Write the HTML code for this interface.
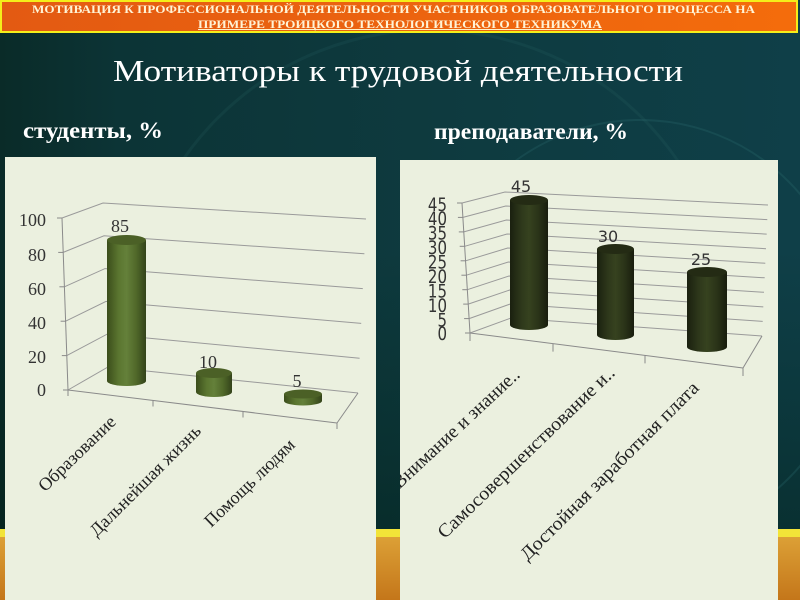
<!DOCTYPE html>
<html><head><meta charset="utf-8"><style>
html,body{margin:0;padding:0;background:#0d3a3e;}
svg{display:block;}
</style></head><body>
<svg width="800" height="600" viewBox="0 0 800 600" xmlns="http://www.w3.org/2000/svg">
<defs>
<linearGradient id="bg" x1="0" y1="0" x2="1" y2="0">
<stop offset="0" stop-color="#0a2b28"/><stop offset="0.15" stop-color="#0c3436"/><stop offset="0.6" stop-color="#0e3b40"/><stop offset="1" stop-color="#0f3f48"/>
</linearGradient>
<linearGradient id="bgv" x1="0" y1="0" x2="0" y2="1">
<stop offset="0" stop-color="#002018" stop-opacity="0"/><stop offset="1" stop-color="#001a10" stop-opacity="0.4"/>
</linearGradient>
<linearGradient id="strip" x1="0" y1="0" x2="0" y2="1">
<stop offset="0" stop-color="#dca036"/><stop offset="1" stop-color="#c4761a"/>
</linearGradient>
<linearGradient id="ban" x1="0" y1="0" x2="1" y2="0">
<stop offset="0" stop-color="#e35a12"/><stop offset="1" stop-color="#f46c0c"/>
</linearGradient>
<linearGradient id="gl" x1="0" y1="0" x2="1" y2="0">
<stop offset="0" stop-color="#3b4d1b"/><stop offset="0.3" stop-color="#5b7630"/><stop offset="0.5" stop-color="#64803a"/><stop offset="0.75" stop-color="#506829"/><stop offset="1" stop-color="#33431a"/>
</linearGradient>
<linearGradient id="gr" x1="0" y1="0" x2="1" y2="0">
<stop offset="0" stop-color="#1a200f"/><stop offset="0.3" stop-color="#2e381b"/><stop offset="0.5" stop-color="#36421f"/><stop offset="0.75" stop-color="#2a3318"/><stop offset="1" stop-color="#181d0d"/>
</linearGradient>
<clipPath id="cpR"><rect x="400" y="160" width="378" height="440"/></clipPath>
<clipPath id="cpL"><rect x="5" y="157" width="371" height="443"/></clipPath>
</defs>

<!-- background -->
<rect x="0" y="0" width="800" height="600" fill="url(#bg)"/>
<rect x="0" y="250" width="800" height="280" fill="url(#bgv)"/>
<circle cx="640" cy="330" r="210" fill="none" stroke="#2a6a6c" stroke-opacity="0.3" stroke-width="2"/>
<circle cx="430" cy="330" r="300" fill="none" stroke="#2a6a6c" stroke-opacity="0.18" stroke-width="3"/>
<rect x="0" y="529" width="800" height="8" fill="#f2e438"/>
<rect x="0" y="537" width="800" height="63" fill="url(#strip)"/>

<!-- banner -->
<rect x="1" y="1" width="796" height="31" fill="url(#ban)" stroke="#f4ee1a" stroke-width="2"/>
<text x="32" y="13" textLength="723" lengthAdjust="spacingAndGlyphs" font-family="Liberation Serif, serif" font-weight="bold" font-size="12" fill="#fff4d6">МОТИВАЦИЯ К ПРОФЕССИОНАЛЬНОЙ ДЕЯТЕЛЬНОСТИ  УЧАСТНИКОВ ОБРАЗОВАТЕЛЬНОГО ПРОЦЕССА НА</text>
<text x="198" y="28" textLength="404" lengthAdjust="spacingAndGlyphs" font-family="Liberation Serif, serif" font-weight="bold" font-size="12" fill="#fff4d6">ПРИМЕРЕ  ТРОИЦКОГО ТЕХНОЛОГИЧЕСКОГО ТЕХНИКУМА</text>
<line x1="198" y1="29.5" x2="602" y2="29.5" stroke="#fff0c8" stroke-width="1"/>

<!-- titles -->
<text x="113" y="81" textLength="570" lengthAdjust="spacingAndGlyphs" font-family="Liberation Serif, serif" font-size="31" fill="#ffffff">Мотиваторы к трудовой деятельности</text>
<text x="23" y="138" textLength="140" lengthAdjust="spacingAndGlyphs" font-family="Liberation Serif, serif" font-weight="bold" font-size="23" fill="#ffffff">студенты, %</text>
<text x="434" y="139" textLength="194" lengthAdjust="spacingAndGlyphs" font-family="Liberation Serif, serif" font-weight="bold" font-size="23" fill="#ffffff">преподаватели, %</text>

<!-- panels -->
<rect x="5" y="157" width="371" height="443" fill="#ebf0df"/>
<rect x="400" y="160" width="378" height="440" fill="#ebf0df"/>

<!-- LEFT CHART -->
<g clip-path="url(#cpL)">
<g stroke="#9a9a9a" stroke-width="1" fill="none">
<polyline points="68,390 108,367 358,393"/>
<polyline points="66.8,355.6 107,334.2 359.6,358.2"/>
<polyline points="65.6,321.2 106,301.4 361.2,323.4"/>
<polyline points="64.4,286.8 105,268.6 362.8,288.6"/>
<polyline points="63.2,252.4 104,235.8 364.4,253.8"/>
<polyline points="62,218 103,203 366,219"/>
</g>
<g stroke="#8a8a8a" stroke-width="1" fill="none">
<line x1="62" y1="218" x2="68" y2="390"/>
<line x1="68" y1="390" x2="337" y2="423"/>
<line x1="337" y1="423" x2="358" y2="393"/>
<line x1="57" y1="218" x2="62" y2="218"/>
<line x1="58.2" y1="252.4" x2="63.2" y2="252.4"/>
<line x1="59.4" y1="286.8" x2="64.4" y2="286.8"/>
<line x1="60.6" y1="321.2" x2="65.6" y2="321.2"/>
<line x1="61.8" y1="355.6" x2="66.8" y2="355.6"/>
<line x1="63" y1="390" x2="68" y2="390"/>
<line x1="68" y1="390" x2="68" y2="396"/>
<line x1="153" y1="400.4" x2="153" y2="406.5"/>
<line x1="243" y1="411.5" x2="243" y2="417.5"/>
<line x1="337" y1="423" x2="337" y2="429"/>
</g>
<g font-family="Liberation Serif, serif" font-size="18" fill="#333" text-anchor="end">
<text x="46" y="226">100</text>
<text x="46" y="261">80</text>
<text x="46" y="295">60</text>
<text x="46" y="329">40</text>
<text x="46" y="363">20</text>
<text x="46" y="396">0</text>
</g>
<!-- bars -->
<path d="M107 240 L107 381 A19.5 5 0 0 0 146 381 L146 240 Z" fill="url(#gl)"/>
<ellipse cx="126.5" cy="240" rx="19.5" ry="5" fill="#4b6026"/>
<path d="M196 373 L196 392 A18 5 0 0 0 232 392 L232 373 Z" fill="url(#gl)"/>
<ellipse cx="214" cy="373" rx="18" ry="5" fill="#4b6026"/>
<text x="297" y="387" font-family="Liberation Serif, serif" font-size="18" fill="#333" text-anchor="middle">5</text>
<path d="M284 394 L284 401 A19 4.5 0 0 0 322 401 L322 394 Z" fill="url(#gl)"/>
<ellipse cx="303" cy="394" rx="19" ry="4.5" fill="#4b6026"/>
<g font-family="Liberation Serif, serif" font-size="18" fill="#333" text-anchor="middle">
<text x="120" y="232">85</text>
<text x="208" y="368">10</text>
</g>
<g font-family="Liberation Serif, serif" font-size="18" fill="#222" text-anchor="end">
<text transform="translate(117,423) rotate(-44)" textLength="100" lengthAdjust="spacingAndGlyphs">Образование</text>
<text transform="translate(202,432) rotate(-45)" textLength="149" lengthAdjust="spacingAndGlyphs">Дальнейшая жизнь</text>
<text transform="translate(296,446) rotate(-44)" textLength="118" lengthAdjust="spacingAndGlyphs">Помощь людям</text>
</g>
</g>

<!-- RIGHT CHART -->
<g clip-path="url(#cpR)">
<g stroke="#9a9a9a" stroke-width="1" fill="none">
<polyline points="470,333 511,318 762,336"/>
<polyline points="469.1,318.6 510.3,304 762.7,321.4"/>
<polyline points="468.2,304.1 509.7,290 763.3,306.9"/>
<polyline points="467.3,289.7 509,276 764,292.3"/>
<polyline points="466.4,275.2 508.3,262 764.7,277.8"/>
<polyline points="465.6,260.8 507.7,248 765.3,263.2"/>
<polyline points="464.7,246.3 507,234 766,248.7"/>
<polyline points="463.8,231.9 506.3,220 766.7,234.1"/>
<polyline points="462.9,217.4 505.7,206 767.3,219.6"/>
<polyline points="462,203 505,192 768,205"/>
</g>
<g stroke="#8a8a8a" stroke-width="1" fill="none">
<line x1="462" y1="203" x2="470" y2="333"/>
<line x1="470" y1="333" x2="743" y2="368"/>
<line x1="743" y1="368" x2="762" y2="336"/>
<line x1="457" y1="203" x2="462" y2="203"/>
<line x1="457.9" y1="217.4" x2="462.9" y2="217.4"/>
<line x1="458.8" y1="231.9" x2="463.8" y2="231.9"/>
<line x1="459.7" y1="246.3" x2="464.7" y2="246.3"/>
<line x1="460.6" y1="260.8" x2="465.6" y2="260.8"/>
<line x1="461.4" y1="275.2" x2="466.4" y2="275.2"/>
<line x1="462.3" y1="289.7" x2="467.3" y2="289.7"/>
<line x1="463.2" y1="304.1" x2="468.2" y2="304.1"/>
<line x1="464.1" y1="318.6" x2="469.1" y2="318.6"/>
<line x1="465" y1="333" x2="470" y2="333"/>
<line x1="470" y1="333" x2="470" y2="341"/>
<line x1="553" y1="343.6" x2="553" y2="351.6"/>
<line x1="645" y1="355.4" x2="645" y2="363.4"/>
<line x1="743" y1="368" x2="743" y2="376"/>
</g>
<g font-family="DejaVu Sans, sans-serif" font-size="15" fill="#333" text-anchor="end">
<text transform="translate(447,211) scale(1,1.25)">45</text>
<text transform="translate(447,225) scale(1,1.25)">40</text>
<text transform="translate(447,239.5) scale(1,1.25)">35</text>
<text transform="translate(447,254) scale(1,1.25)">30</text>
<text transform="translate(447,268.5) scale(1,1.25)">25</text>
<text transform="translate(447,283) scale(1,1.25)">20</text>
<text transform="translate(447,297.5) scale(1,1.25)">15</text>
<text transform="translate(447,312) scale(1,1.25)">10</text>
<text transform="translate(447,326.5) scale(1,1.25)">5</text>
<text transform="translate(447,340) scale(1,1.25)">0</text>
</g>
<path d="M510 200 L510 325 A19 5 0 0 0 548 325 L548 200 Z" fill="url(#gr)"/>
<ellipse cx="529" cy="200" rx="19" ry="5" fill="#242b14"/>
<path d="M597 249 L597 335 A18.5 5 0 0 0 634 335 L634 249 Z" fill="url(#gr)"/>
<ellipse cx="615.5" cy="249" rx="18.5" ry="5" fill="#242b14"/>
<path d="M687 272 L687 347 A20 5 0 0 0 727 347 L727 272 Z" fill="url(#gr)"/>
<ellipse cx="707" cy="272" rx="20" ry="5" fill="#242b14"/>
<g font-family="DejaVu Sans, sans-serif" font-size="16" fill="#333" text-anchor="middle">
<text x="521" y="192">45</text>
<text x="608" y="242">30</text>
<text x="701" y="265">25</text>
</g>
<g font-family="Liberation Serif, serif" font-size="19" fill="#222" text-anchor="end">
<text transform="translate(521,376) rotate(-43)">Внимание и знание..</text>
<text transform="translate(616,374) rotate(-44)" textLength="238" lengthAdjust="spacingAndGlyphs">Самосовершенствование и..</text>
<text transform="translate(700,389) rotate(-45)" textLength="244" lengthAdjust="spacingAndGlyphs">Достойная заработная плата</text>
</g>
</g>
</svg>
</body></html>
